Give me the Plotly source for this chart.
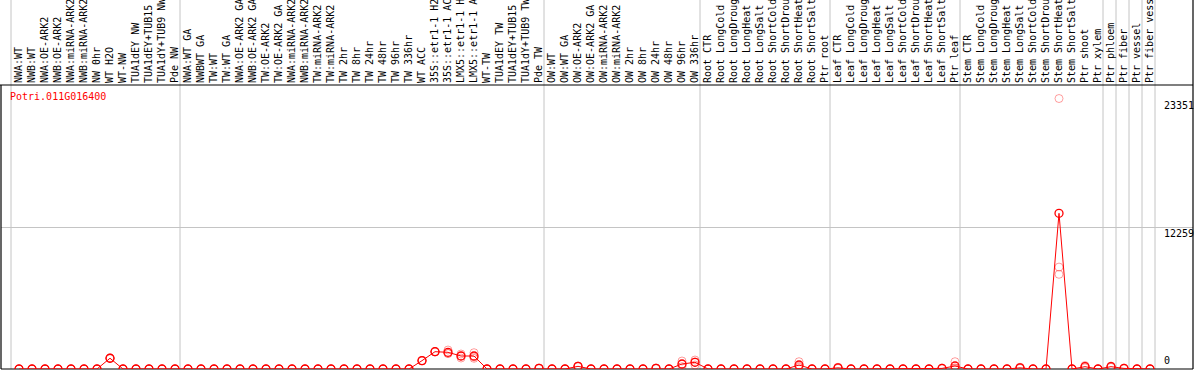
import plotly.graph_objects as go

gene = "Potri.011G016400"

samples = [
    "NWA:WT", "NWB:WT", "NWA:OE-ARK2", "NWB:OE-ARK2", "NWA:miRNA-ARK2", "NWB:miRNA-ARK2",
    "NW 0hr", "WT H2O", "WT-NW", "TUA1dEY NW", "TUA1dEY+TUB15 NW", "TUA1dY+TUB9 NW", "Pde NW",
    "NWA:WT GA", "NWBWT GA", "TW:WT", "TW:WT GA", "NWA:OE-ARK2 GA", "NWB:OE-ARK2 GA",
    "TW:OE-ARK2", "TW:OE-ARK2 GA", "NWA:miRNA-ARK2", "NWB:miRNA-ARK2", "TW:miRNA-ARK2",
    "TW:miRNA-ARK2", "TW 2hr", "TW 8hr", "TW 24hr", "TW 48hr", "TW 96hr", "TW 336hr", "WT ACC",
    "35S::etr1-1 H2O", "35S::etr1-1 ACC", "LMX5::etr1-1 H2O", "LMX5::etr1-1 ACC", "WT-TW",
    "TUA1dEY TW", "TUA1dEY+TUB15 TW", "TUA1dY+TUB9 TW", "Pde TW",
    "OW:WT", "OW:WT GA", "OW:OE-ARK2", "OW:OE-ARK2 GA", "OW:miRNA-ARK2", "OW:miRNA-ARK2",
    "OW 2hr", "OW 8hr", "OW 24hr", "OW 48hr", "OW 96hr", "OW 336hr",
    "Root CTR", "Root LongCold", "Root LongDrought", "Root LongHeat", "Root LongSalt",
    "Root ShortCold", "Root ShortDrought", "Root ShortHeat", "Root ShortSalt", "Ptr root",
    "Leaf CTR", "Leaf LongCold", "Leaf LongDrought", "Leaf LongHeat", "Leaf LongSalt",
    "Leaf ShortCold", "Leaf ShortDrought", "Leaf ShortHeat", "Leaf ShortSalt", "Ptr leaf",
    "Stem CTR", "Stem LongCold", "Stem LongDrought", "Stem LongHeat", "Stem LongSalt",
    "Stem ShortCold", "Stem ShortDrought", "Stem ShortHeat", "Stem ShortSalt", "Ptr shoot",
    "Ptr xylem", "Ptr phloem", "Ptr fiber", "Ptr vessel", "Ptr fiber vessel",
]

group_sizes = [13, 28, 12, 10, 10, 11, 1, 1, 1, 1]

mean_values = [
    0, 0, 0, 0, 0, 0, 0, 930, 0, 0, 0, 0, 0,
    0, 0, 0, 0, 0, 0, 0, 0, 0, 0, 0, 0, 0, 0, 0, 0, 0, 0, 720, 1494, 1442, 1122, 1122,
    0, 0, 0, 0, 60,
    0, 0, 230, 0, 0, 0, 0, 0, 60, 0, 432, 578,
    0, 0, 0, 0, 0, 0, 0, 345, 0, 0,
    100, 0, 0, 0, 0, 0, 0, 0, 50, 259,
    0, 0, 0, 0, 100, 0, 0, 13442, 0, 200, 0,
    200, 50, 0, 0,
]

rep1 = [
    0, 0, 0, 0, 0, 0, 0, 960, 0, 0, 0, 0, 0,
    0, 0, 0, 0, 0, 0, 0, 0, 0, 0, 0, 0, 0, 0, 0, 0, 0, 0, 740, 1520, 1640, 1295, 1407,
    0, 0, 0, 0, 90,
    0, 0, 260, 0, 0, 0, 0, 0, 90, 0, 691, 777,
    0, 0, 0, 0, 0, 0, 0, 630, 0, 0,
    150, 0, 0, 0, 0, 0, 0, 0, 80, 630,
    0, 0, 0, 0, 150, 0, 0, 23351, 0, 300, 0,
    260, 80, 0, 0,
]

rep2 = [
    0, 0, 0, 0, 0, 0, 0, 930, 0, 0, 0, 0, 0,
    0, 0, 0, 0, 0, 0, 0, 0, 0, 0, 0, 0, 0, 0, 0, 0, 0, 0, 720, 1490, 1350, 1121, 1035,
    0, 0, 0, 0, 60,
    0, 0, 230, 0, 0, 0, 0, 0, 60, 0, 406, 612,
    0, 0, 0, 0, 0, 0, 0, 250, 0, 0,
    100, 0, 0, 0, 0, 0, 0, 0, 50, 100,
    0, 0, 0, 0, 100, 0, 0, 8800, 0, 200, 0,
    200, 50, 0, 0,
]

rep3 = [
    0, 0, 0, 0, 0, 0, 0, 900, 0, 0, 0, 0, 0,
    0, 0, 0, 0, 0, 0, 0, 0, 0, 0, 0, 0, 0, 0, 0, 0, 0, 0, 700, 1470, 1336, 950, 924,
    0, 0, 0, 0, 30,
    0, 0, 200, 0, 0, 0, 0, 0, 30, 0, 199, 345,
    0, 0, 0, 0, 0, 0, 0, 155, 0, 0,
    50, 0, 0, 0, 0, 0, 0, 0, 20, 47,
    0, 0, 0, 0, 50, 0, 0, 8175, 0, 100, 0,
    140, 20, 0, 0,
]

W, H = 1194, 370
ML, MR, MT, MB = 1, 1, 85, 1
PW, PH = W - ML - MR, H - MT - MB
STEP = 13.0          # px per sample
FIRST = 19.0         # px position of first sample
x_lo = -(FIRST - ML) / STEP
x_hi = x_lo + PW / STEP

xs = list(range(len(samples)))
ymax = max(max(rep1), max(rep2), max(rep3), max(mean_values))
ytop = ymax * 1.05
ymid = ytop / 2

FONT = "DejaVu Sans Mono"

fig = go.Figure()

rx, ry = [], []
for reps in (rep1, rep2, rep3):
    rx += xs
    ry += reps
fig.add_trace(go.Scatter(
    x=rx, y=ry, mode="markers",
    marker=dict(symbol="circle-open", size=8, color="rgba(255,0,0,0.38)", line=dict(width=1)),
    showlegend=False, hoverinfo="skip",
))
fig.add_trace(go.Scatter(
    x=xs, y=mean_values, mode="lines+markers",
    line=dict(color="#ff0000", width=1),
    marker=dict(symbol="circle-open", size=8, color="#ff0000", line=dict(width=1.3)),
    showlegend=False,
))

shapes = []
# group separators
pos = 0
bounds = [0]
for g in group_sizes:
    pos += g
    bounds.append(pos)
for b in bounds:
    xb = b - 0.5 - 1.5 / STEP
    shapes.append(dict(type="line", xref="x", yref="paper", x0=xb, x1=xb,
                       y0=0, y1=(PH + MT) / PH, line=dict(color="#c4c4c4", width=1), layer="below"))
# frame
blk = dict(color="#000000", width=1.2)
shapes.append(dict(type="line", xref="paper", yref="paper", x0=-ML / PW, x1=1, y0=1, y1=1, line=blk))
shapes.append(dict(type="line", xref="paper", yref="paper", x0=1, x1=1, y0=0, y1=(PH + MT) / PH, line=blk))
shapes.append(dict(type="line", xref="paper", yref="paper", x0=0, x1=0, y0=0, y1=1, line=blk))
shapes.append(dict(type="line", xref="paper", yref="paper", x0=0, x1=1, y0=0, y1=0, line=blk, layer="below"))

lab_x = (1163 - ML) / PW
annotations = [
    dict(text=f"{ymax:.0f}", x=lab_x, y=ymax, xref="paper", yref="y", xanchor="left", yanchor="top",
         showarrow=False, font=dict(family=FONT, size=10, color="#000"), borderpad=0),
    dict(text=f"{ymid:.0f}", x=lab_x, y=ymid, xref="paper", yref="y", xanchor="left", yanchor="top",
         showarrow=False, font=dict(family=FONT, size=10, color="#000"), borderpad=0),
    dict(text="0", x=lab_x, y=0, xref="paper", yref="y", xanchor="left", yanchor="bottom", yshift=2,
         showarrow=False, font=dict(family=FONT, size=10, color="#000"), borderpad=0),
    dict(text=gene, x=(9 - ML) / PW, y=1 - 5 / PH, xref="paper", yref="paper", xanchor="left",
         yanchor="top", showarrow=False, font=dict(family=FONT, size=10, color="#ff0000"), borderpad=0),
]

fig.update_layout(
    width=W, height=H,
    margin=dict(l=ML, r=MR, t=MT, b=MB, pad=0),
    paper_bgcolor="white", plot_bgcolor="white",
    shapes=shapes, annotations=annotations,
    font=dict(family=FONT, size=10, color="#000"),
    xaxis=dict(
        side="top", range=[x_lo, x_hi], tickmode="array", tickvals=xs, ticktext=samples,
        tickangle=-90, tickfont=dict(family=FONT, size=10, color="#000"),
        showgrid=False, zeroline=False, showline=False, ticks="", automargin=False,
        ticklabelstandoff=1,
    ),
    yaxis=dict(
        range=[0, ytop], tickmode="array", tickvals=[ymid], showticklabels=False,
        showgrid=True, gridcolor="#c4c4c4", gridwidth=1, zeroline=False, showline=False,
        ticks="", automargin=False,
    ),
)

fig.write_html(
    "out.html",
    config={"displayModeBar": False},
    post_script="document.body.style.margin='0';document.body.style.padding='0';document.body.style.overflow='hidden';",
)
